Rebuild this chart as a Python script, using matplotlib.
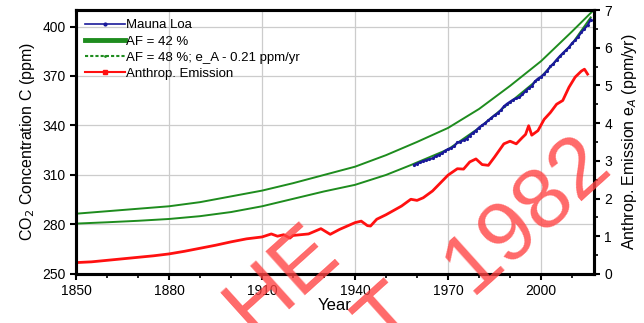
import matplotlib.pyplot as plt
from matplotlib.lines import Line2D
from matplotlib.ticker import MultipleLocator

plt.rcParams['font.family'] = ['Liberation Sans', 'DejaVu Sans']

# Mauna Loa annual means (ppm)
ml_years = list(range(1959, 2017))
ml_co2 = [315.97, 316.91, 317.64, 318.45, 318.99, 319.62, 320.04, 321.38, 322.16, 323.04,
          324.62, 325.68, 326.32, 327.45, 329.68, 330.18, 331.11, 332.04, 333.83, 335.40,
          336.84, 338.75, 340.11, 341.45, 343.05, 344.65, 346.12, 347.42, 349.19, 351.57,
          353.12, 354.39, 355.61, 356.45, 357.10, 358.83, 360.82, 362.61, 363.73, 366.70,
          368.38, 369.55, 371.14, 373.28, 375.80, 377.52, 379.80, 381.90, 383.79, 385.60,
          387.43, 389.90, 391.65, 393.85, 396.52, 398.65, 400.83, 404.24]

# model curves (ppm)
af_years = [1850, 1860, 1870, 1880, 1890, 1900, 1910, 1920, 1930, 1940, 1950,
            1960, 1970, 1980, 1990, 2000, 2010, 2017]
af42 = [286.5, 288.0, 289.5, 291.0, 293.5, 297.0, 300.5, 305.0, 310.0, 315.0, 322.0,
        330.0, 338.5, 350.0, 364.0, 379.0, 397.0, 410.0]
af48_years = [1850, 1860, 1870, 1880, 1890, 1900, 1910, 1920, 1930, 1940, 1950,
              1958, 1970, 1980, 1990, 2000, 2010, 2016]
af48 = [280.5, 281.3, 282.2, 283.3, 285.0, 287.5, 291.0, 295.5, 300.0, 304.0, 310.0,
        316.0, 325.5, 338.5, 354.0, 369.5, 389.5, 405.5]

# anthropogenic emission (ppm/yr)
em_years = [1850, 1855, 1860, 1865, 1870, 1875, 1880, 1885, 1890, 1895, 1900, 1905,
            1910, 1913, 1915, 1917, 1919, 1920, 1925, 1929, 1931, 1932, 1935, 1940,
            1942, 1944, 1945, 1947, 1950, 1955, 1958, 1960, 1962, 1965, 1970, 1973,
            1975, 1977, 1979, 1981, 1983, 1985, 1988, 1990, 1992, 1994, 1995, 1996,
            1997, 1999, 2001, 2003, 2005, 2007, 2009, 2011, 2013, 2014, 2015]
emission = [0.30, 0.32, 0.36, 0.40, 0.44, 0.48, 0.53, 0.60, 0.68, 0.76, 0.85, 0.93,
            0.98, 1.06, 1.00, 1.04, 0.95, 1.02, 1.06, 1.20, 1.10, 1.05, 1.18, 1.36,
            1.40, 1.28, 1.27, 1.45, 1.57, 1.80, 1.98, 1.95, 2.02, 2.20, 2.62, 2.79,
            2.78, 2.97, 3.05, 2.90, 2.88, 3.10, 3.45, 3.52, 3.45, 3.62, 3.70, 3.93,
            3.68, 3.80, 4.10, 4.28, 4.50, 4.60, 4.95, 5.22, 5.38, 5.43, 5.30]

green = '#1e8c1e'
navy = '#1a1a9a'
red = '#ff1010'

fig = plt.figure(figsize=(6.44, 3.23), dpi=100)
ax = fig.add_axes([0.118, 0.152, 0.804, 0.817])
ax2 = ax.twinx()

ax.plot(af_years, af42, color=green, lw=1.4, zorder=3)
ax.plot(af48_years, af48, color=green, lw=1.4, zorder=3)
ax.plot(ml_years, ml_co2, color=navy, lw=1.6, marker='.', ms=2.5, zorder=4)
ax2.plot(em_years, emission, color=red, lw=2.0)

ax.set_xlim(1850, 2017)
ax.set_ylim(250, 410)
ax2.set_ylim(0, 7)
ax.set_xticks([1850, 1880, 1910, 1940, 1970, 2000])
ax.xaxis.set_minor_locator(MultipleLocator(10))
ax.set_yticks([250, 280, 310, 340, 370, 400])
ax2.set_yticks(range(8))
ax2.yaxis.set_minor_locator(MultipleLocator(0.5))
ax.grid(True, color='#cccccc', lw=0.9)
ax.set_axisbelow(True)

for a in (ax, ax2):
    for s in a.spines.values():
        s.set_linewidth(2.2)
ax.tick_params(labelsize=10, width=1.5, length=4)
ax.tick_params(which='minor', width=1.2, length=3)
ax2.tick_params(labelsize=10, width=1.5, length=4)
ax2.tick_params(which='minor', width=1.2, length=3)

ax.set_xlabel('Year', fontsize=12, labelpad=0)
ax.set_ylabel('CO$_2$ Concentration C (ppm)', fontsize=11.5, labelpad=4)
ax2.set_ylabel('Anthrop. Emission e$_A$ (ppm/yr)', fontsize=11.5, labelpad=6)

handles = [
    Line2D([], [], color=navy, lw=1.2, marker='.', ms=4),
    Line2D([], [], color=green, lw=3.5),
    Line2D([], [], color=green, lw=1.5, ls=(0, (1.5, 1)), marker='.', ms=2),
    Line2D([], [], color=red, lw=1.5, marker='s', ms=3),
]
labels = ['Mauna Loa', 'AF = 42 %', 'AF = 48 %; e_A - 0.21 ppm/yr', 'Anthrop. Emission']
ax2.legend(handles, labels, loc='upper left', frameon=False, fontsize=9.5,
           handlelength=3.0, handletextpad=0.1, labelspacing=0.3,
           borderaxespad=0.3, bbox_to_anchor=(0.0, 1.0))

# watermark
wm = dict(color='#ff4444', alpha=0.8, fontsize=62, rotation=42,
          ha='center', va='center', transform=fig.transFigure, zorder=10)
fig.text(527 / 644, 1 - 215 / 323, '1982', **wm)
fig.text(390 / 644, 1 - 320 / 323, 'T', **wm)
fig.text(283 / 644, 1 - 280 / 323, 'HE', **wm)

fig.savefig('out.png', dpi=100)
